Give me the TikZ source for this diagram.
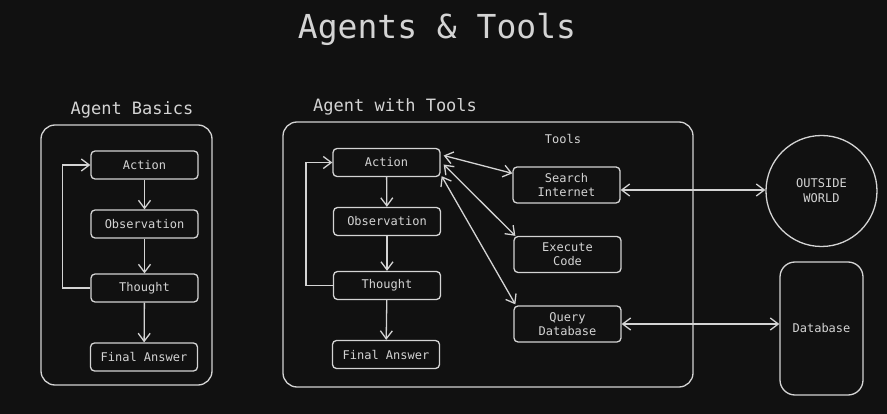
\documentclass[tikz,border=0pt]{standalone}
\usepackage{fontspec}
\setmonofont{DejaVu Sans Mono}
\usetikzlibrary{arrows.meta}
\definecolor{bg}{HTML}{111111}
\definecolor{fg}{HTML}{D4D4D4}
\tikzset{
  stepbox/.style={draw=fg, line width=1.3pt, rounded corners=4pt, minimum width=107pt, minimum height=28pt, text=fg, font=\ttfamily\fontsize{12}{14}\selectfont, inner sep=0pt},
  toolbox/.style={stepbox, minimum height=36pt, align=center},
  panel/.style={draw=fg, line width=1.3pt, rounded corners=14pt},
  conn/.style={draw=fg, line width=1.3pt, -{Straight Barb[length=8pt,width=12pt,line width=1.3pt]}},
  biconn/.style={draw=fg, line width=1.3pt, {Straight Barb[length=8pt,width=12pt,line width=1.3pt]}-{Straight Barb[length=8pt,width=12pt,line width=1.3pt]}},
  ttl/.style={text=fg, font=\ttfamily\fontsize{17}{20}\selectfont, inner sep=0pt},
}
\begin{document}
\begin{tikzpicture}[x=1pt,y=-1pt]
\fill[bg] (0,0) rectangle (887,414);
\useasboundingbox (0,0) rectangle (887,414);

\node[text=fg, font=\ttfamily\fontsize{33}{36}\selectfont, inner sep=0pt] (title) at (437,29) {Agents \& Tools};

% left panel
\draw[panel] (41,125) rectangle (212,385);
\node[ttl] (lt) at (132,110) {Agent Basics};
\node[stepbox] (a1) at (144.5,165) {Action};
\node[stepbox] (o1) at (144.5,224) {Observation};
\node[stepbox] (t1) at (144.5,288) {Thought};
\node[stepbox] (f1) at (144,357) {Final Answer};
\draw[conn] (a1) -- (o1);
\draw[conn] (o1) -- (t1);
\draw[conn] (t1) -- (f1);
\draw[conn] (t1.west) -- ++(-28,0) |- (a1.west);

% middle panel
\draw[panel] (283,122) rectangle (693,387);
\node[ttl, anchor=west] (mt) at (313,107) {Agent with Tools};
\node[text=fg, font=\ttfamily\fontsize{12}{14}\selectfont, inner sep=0pt] (tl) at (563,139) {Tools};
\node[stepbox] (a2) at (386.5,162.5) {Action};
\node[stepbox] (o2) at (387,221.5) {Observation};
\node[stepbox] (t2) at (387,285.5) {Thought};
\node[stepbox] (f2) at (386,354.5) {Final Answer};
\draw[conn] (a2) -- (o2);
\draw[conn] (o2) -- (t2);
\draw[conn] (t2) -- (f2);
\draw[conn] (t2.west) -- ++(-27,0) |- (a2.west);

\node[toolbox] (si) at (566.5,185) {Search\\Internet};
\node[toolbox] (ec) at (567.5,254.5) {Execute\\Code};
\node[toolbox] (qd) at (567.5,324) {Query\\Database};

\draw[biconn] ([shift={(3,-7)}]a2.east) -- ([shift={(0,7)}]si.north west);
\draw[biconn] ([shift={(3,2)}]a2.east) -- ([shift={(2,0)}]ec.north west);
\draw[biconn] ([shift={(1,-1)}]a2.south east) -- ([shift={(2,-1)}]qd.north west);

% outside
\node[draw=fg, line width=1.3pt, circle, minimum size=111pt, inner sep=0pt, align=center, text=fg, font=\ttfamily\fontsize{12}{15}\selectfont] (ow) at (821.5,191) {OUTSIDE\\WORLD};
\node[draw=fg, line width=1.3pt, rounded corners=15pt, minimum width=83pt, minimum height=133pt, inner sep=0pt, text=fg, font=\ttfamily\fontsize{12}{14}\selectfont] (db) at (821.5,328.5) {Database};

\coordinate (sie) at ([yshift=-5pt]si.east);
\draw[biconn] (sie) -- (ow.west |- sie);
\draw[biconn] (qd.east) -- (db.west |- qd.east);
\end{tikzpicture}
\end{document}
